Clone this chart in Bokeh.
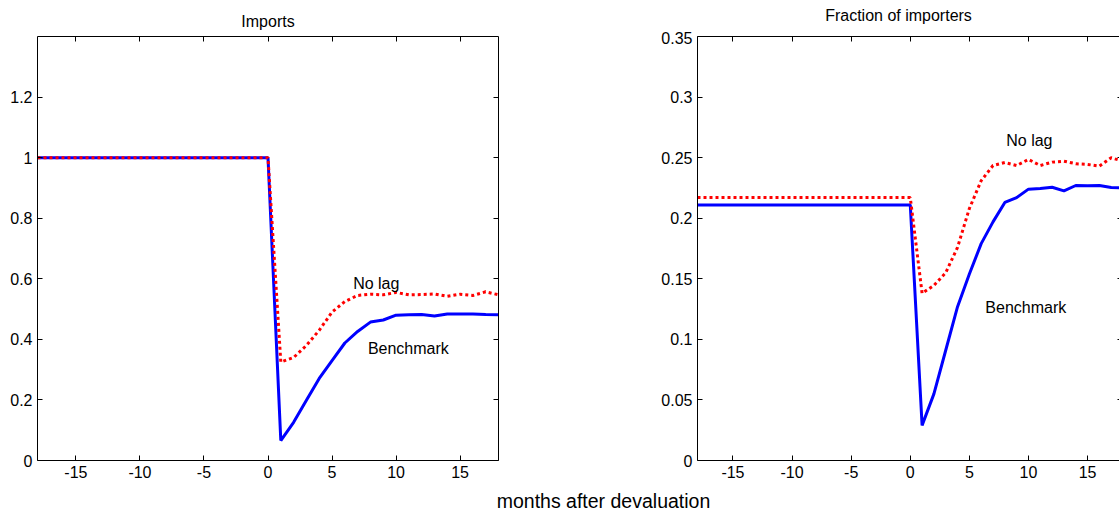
from bokeh.plotting import figure
from bokeh.models import LinearAxis, FixedTicker, Range1d, Label
from bokeh.layouts import row, column
from bokeh.embed import file_html
from bokeh.resources import INLINE

FONT = "Liberation Sans"

# ---------------- data ----------------
months = [-18, -17, -16, -15, -14, -13, -12, -11, -10, -9, -8, -7, -6, -5, -4, -3, -2, -1, 0,
          1, 2, 3, 4, 5, 6, 7, 8, 9, 10, 11, 12, 13, 14, 15, 16, 17, 18]

imports_benchmark = [1.0, 1.0, 1.0, 1.0, 1.0, 1.0, 1.0, 1.0, 1.0, 1.0, 1.0, 1.0, 1.0, 1.0, 1.0, 1.0, 1.0, 1.0, 1.0,
                     0.066, 0.126, 0.199, 0.271, 0.330, 0.388, 0.426, 0.457, 0.464, 0.480,
                     0.481, 0.482, 0.477, 0.484, 0.484, 0.484, 0.482, 0.481]
imports_nolag = [1.0, 1.0, 1.0, 1.0, 1.0, 1.0, 1.0, 1.0, 1.0, 1.0, 1.0, 1.0, 1.0, 1.0, 1.0, 1.0, 1.0, 1.0, 1.0,
                 0.325, 0.340, 0.380, 0.430, 0.490, 0.525, 0.545, 0.549, 0.547, 0.555,
                 0.547, 0.548, 0.550, 0.542, 0.549, 0.545, 0.557, 0.547]

frac_benchmark = [0.211, 0.211, 0.211, 0.211, 0.211, 0.211, 0.211, 0.211, 0.211, 0.211, 0.211, 0.211,
                  0.211, 0.211, 0.211, 0.211, 0.211, 0.211, 0.211,
                  0.029, 0.055, 0.091, 0.127, 0.154, 0.179, 0.197, 0.213, 0.217, 0.224,
                  0.2245, 0.2256, 0.2226, 0.227, 0.2267, 0.227, 0.2253, 0.225]
frac_nolag = [0.217, 0.217, 0.217, 0.217, 0.217, 0.217, 0.217, 0.217, 0.217, 0.217, 0.217, 0.217,
              0.217, 0.217, 0.217, 0.217, 0.217, 0.217, 0.217,
              0.138, 0.1445, 0.155, 0.176, 0.208, 0.231, 0.2435, 0.246, 0.2435, 0.2485,
              0.2435, 0.2463, 0.2471, 0.245, 0.2444, 0.243, 0.2499, 0.247]

x_ticks = [-15, -10, -5, 0, 5, 10, 15]
x_tick_labels = ["-15", "-10", "-5", "0", "5", "10", "15"]
imports_y_ticks = [0, 0.2, 0.4, 0.6, 0.8, 1.0, 1.2]
imports_y_labels = ["0", "0.2", "0.4", "0.6", "0.8", "1", "1.2"]
frac_y_ticks = [0, 0.05, 0.1, 0.15, 0.2, 0.25, 0.3, 0.35]
frac_y_labels = ["0", "0.05", "0.1", "0.15", "0.2", "0.25", "0.3", "0.35"]

titles = ["Imports", "Fraction of importers"]
x_label = "months after devaluation"

BLUE = "#0000ff"
RED = "#ff0000"


def style_axis(ax, ticks, labels, show_labels=True, tick_in=5, line=True):
    ax.ticker = FixedTicker(ticks=ticks)
    ax.major_label_overrides = {t: l for t, l in zip(ticks, labels)}
    ax.axis_line_color = "black" if line else None
    ax.axis_line_width = 1
    ax.major_tick_in = tick_in
    ax.major_tick_out = 0
    ax.major_tick_line_color = "black"
    ax.minor_tick_in = 0
    ax.minor_tick_out = 0
    ax.minor_tick_line_color = None
    if show_labels:
        ax.major_label_text_font = FONT
        ax.major_label_text_font_size = "16px"
        ax.major_label_text_color = "black"
        ax.major_label_standoff = 5
    else:
        ax.major_label_text_font_size = "0px"
        ax.major_label_text_alpha = 0
        ax.major_label_standoff = 0


def make_panel(width, height, x_end, y_end, y_ticks, y_labels, bl, br, bt, bb, right_tick_in, right_line):
    p = figure(width=width, height=height,
               x_range=Range1d(-18, x_end), y_range=Range1d(0, y_end),
               output_backend="svg", toolbar_location=None,
               x_axis_location=None, y_axis_location=None,
               min_border_left=bl, min_border_right=br, min_border_top=bt, min_border_bottom=bb,
               outline_line_color=None, background_fill_color="white", border_fill_color="white")
    p.grid.visible = False
    below = LinearAxis()
    style_axis(below, x_ticks, x_tick_labels)
    left = LinearAxis()
    style_axis(left, y_ticks, y_labels)
    above = LinearAxis()
    style_axis(above, x_ticks, x_tick_labels, show_labels=False)
    right = LinearAxis()
    style_axis(right, y_ticks, y_labels, show_labels=False, tick_in=right_tick_in, line=right_line)
    p.add_layout(below, "below")
    p.add_layout(left, "left")
    p.add_layout(above, "above")
    p.add_layout(right, "right")
    return p


def add_label(p, x, y, text, size="16px", align="left"):
    p.add_layout(Label(x=x, y=y, text=text, text_align=align, text_baseline="middle",
                       text_font=FONT, text_font_size=size, text_color="black"))


def strip(height):
    s = figure(width=1119, height=height, x_range=Range1d(0, 1119), y_range=Range1d(0, height),
               output_backend="svg", toolbar_location=None, min_border=0,
               x_axis_location=None, y_axis_location=None, outline_line_color=None,
               background_fill_color="white", border_fill_color="white")
    s.grid.visible = False
    return s


TOP = 31
H = 486 - TOP

# title strip (page y 0..31)
pt = strip(TOP)
add_label(pt, 267.5, TOP - 20.5, titles[0], align="center")
add_label(pt, 898, TOP - 15.3, titles[1], align="center")

# left panel: canvas x 0..600, frame 37..498, page y 33..460
p1 = make_panel(600, H, 18, 1.4, imports_y_ticks, imports_y_labels, 37, 102, 33 - TOP, 26, 5, True)
p1.line(months, imports_benchmark, line_color=BLUE, line_width=3)
p1.line(months, imports_nolag, line_color=RED, line_width=3, line_dash="3 3")
add_label(p1, 6.65, 0.585, "No lag")
add_label(p1, 7.8, 0.371, "Benchmark")

# right panel: canvas x 600..1119, frame 697..1119 (cut at window edge), page y 36..460
p2 = make_panel(519, H, 17.7, 0.35, frac_y_ticks, frac_y_labels, 97, 0, 36 - TOP, 26, 2, False)
p2.line(months, frac_benchmark, line_color=BLUE, line_width=3)
p2.line(months, frac_nolag, line_color=RED, line_width=3, line_dash="3 3")
add_label(p2, 8.12, 0.264, "No lag")
add_label(p2, 6.35, 0.126, "Benchmark")

# shared x label strip (page y 486..510)
p3 = strip(24)
add_label(p3, 603, 10, x_label, size="19.5px", align="center")

layout = column(pt, row(p1, p2), p3)

open("out.html", "w").write(file_html(layout, INLINE))
